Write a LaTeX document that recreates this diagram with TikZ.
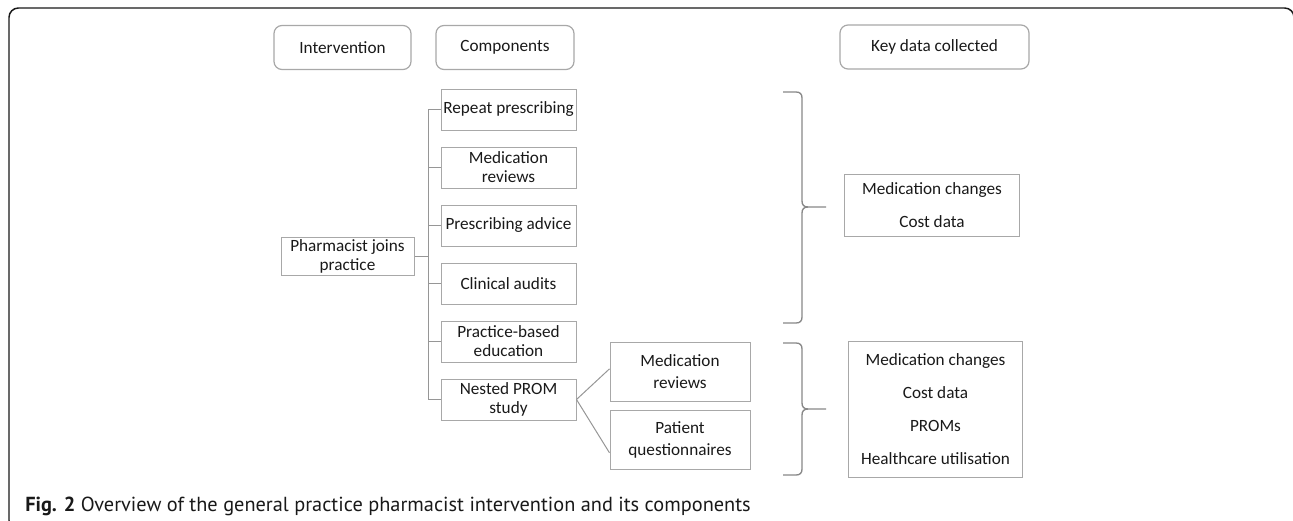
\documentclass[tikz,border=0pt]{standalone}
\usepackage{fontspec}
\setmainfont{Carlito}
\newfontfamily\capfont{PT Sans}
\usepackage{tikz}

\definecolor{boxgray}{RGB}{168,168,168}
\definecolor{linegray}{RGB}{150,150,150}
\definecolor{bracegray}{RGB}{135,135,135}
\definecolor{inkgray}{RGB}{25,25,25}

\begin{document}
\begin{tikzpicture}[x=0.75pt,y=0.75pt,yscale=-1,xscale=1,
    every node/.style={text=inkgray},
    hdrbox/.style={draw=boxgray, rounded corners=6pt, line width=0.9pt, minimum height=33pt, inner sep=0pt, font=\fontsize{12.9}{15}\selectfont},
    compbox/.style={draw=boxgray, line width=0.75pt, minimum width=101.25pt, minimum height=30.75pt, inner sep=0pt, align=center, font=\fontsize{12.9}{14.25}\selectfont},
    subbox/.style={compbox, minimum width=105pt, minimum height=44.25pt, font=\fontsize{12.9}{16.5}\selectfont},
    keybox/.style={compbox, minimum width=131pt, font=\fontsize{12.9}{24.75}\selectfont},
    link/.style={draw=linegray, line width=0.75pt},
    keybrace/.style={draw=bracegray, line width=1pt}
  ]
\useasboundingbox (0,0) rectangle (1293,521);
\clip (0,0) rectangle (1293,521);
% Frame
\draw [line width=1.1pt, color=inkgray, rounded corners=7pt] (9,8) rectangle (1294,530);
% Header Nodes
\node [hdrbox, minimum width=102.75pt] (hdrInt) at (342.5,47.5) {Intervention};
\node [hdrbox, minimum width=103.5pt] (hdrComp) at (505,47.5) {Components};
\node [hdrbox, minimum width=141.75pt] (hdrKey) at (934.5,47) {Key data collected};
% Intervention
\node [compbox, minimum width=99.75pt, minimum height=28.5pt] (pharm) at (347.5,256) {Pharmacist joins\\practice};
% Components
\node [compbox] (repeat) at (508.5,109.5) {Repeat prescribing};
\node [compbox] (medrev) at (508.5,167.5) {Medication\\reviews};
\node [compbox] (advice) at (508.5,225.5) {Prescribing advice};
\node [compbox] (audit) at (508.5,283.5) {Clinical audits};
\node [compbox] (educ) at (508.5,341.5) {Practice-based\\education};
\node [compbox] (prom) at (508.5,399.5) {Nested PROM\\study};
% Nested study parts
\node [subbox] (promrev) at (680,371.5) {Medication\\reviews};
\node [subbox] (promq) at (680,439.5) {Patient\\questionnaires};
% Key data
\node [keybox, minimum height=46.5pt] (keyA) at (932,205) {Medication changes\\Cost data};
\node [keybox, minimum height=102pt] (keyB) at (935.5,409) {Medication changes\\Cost data\\PROMs\\Healthcare utilisation};
% Connection
\coordinate (trunk) at (428,109.5);
\draw [link] (repeat.west) -- (repeat.west -| trunk) |- (prom.west);
\foreach \c in {medrev,advice,audit,educ}
  \draw [link] (\c.west) -- (\c.west -| trunk);
\draw [link] (pharm.east) -- (pharm.east -| trunk);
% Connection
\draw [link] (prom.east) -- ([yshift=-2pt]promrev.west);
\draw [link] (prom.east) -- ([yshift=10pt]promq.west);
% Brace
\draw [keybrace] (783,92) -- (796,92) .. controls (800,92) and (802,94) .. (802,98) -- (802,201) .. controls (802,205) and (804,207) .. (808,207) -- (826,207);
\draw [keybrace] (808,207) .. controls (804,207) and (802,209) .. (802,213) -- (802,317) .. controls (802,321) and (800,323) .. (796,323) -- (783,323);
% Brace
\draw [keybrace] (783,343) -- (796,343) .. controls (800,343) and (802,345) .. (802,349) -- (802,403) .. controls (802,407) and (804,409) .. (808,409) -- (826,409);
\draw [keybrace] (808,409) .. controls (804,409) and (802,411) .. (802,415) -- (802,469) .. controls (802,473) and (800,475) .. (796,475) -- (783,475);
% Caption
\node [anchor=base west, inner sep=0pt, font=\capfont\fontsize{15.25}{18}\selectfont] (caption) at (25,511) {\textbf{Fig. 2} Overview of the general practice pharmacist intervention and its components};
\end{tikzpicture}
\end{document}
